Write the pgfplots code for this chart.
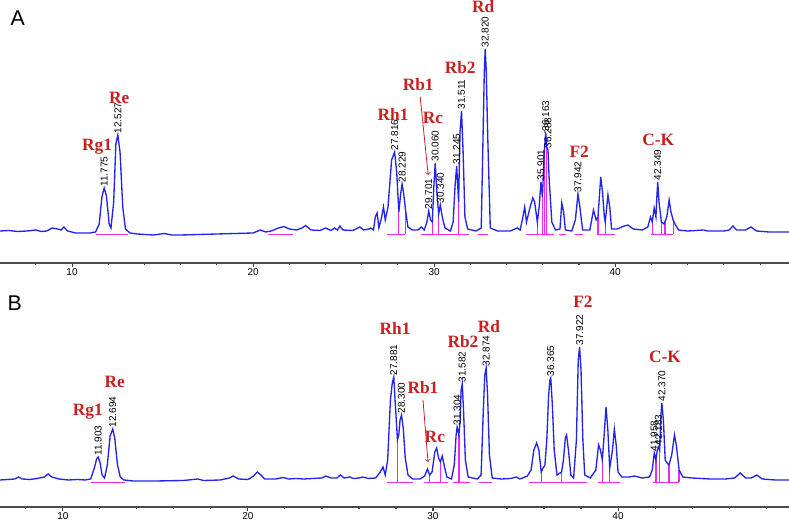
\documentclass[border=0pt]{standalone}
\usepackage{fontspec}
\setmainfont{Liberation Sans}
\newfontfamily\tnr{Liberation Serif}
\usepackage{pgfplots}
\pgfplotsset{compat=1.18}

\definecolor{trace}{RGB}{35,35,235}
\definecolor{integ}{RGB}{240,40,240}
\definecolor{peakred}{RGB}{200,32,30}

\pgfplotsset{
  chrom/.style={
    scale only axis, width=591.75pt,
    axis x line*=bottom, hide y axis, clip=false,
    xtick={10,20,30,40}, minor xtick={8,10,...,48},
    xtick align=outside, major tick length=3pt, minor tick length=1.5pt,
    tick style={black!75, line width=0.8pt},
    axis line style={black!70, line width=0.8pt},
    ticklabel style={font=\fontsize{7.5}{8}\selectfont, inner sep=1pt},
    /pgf/number format/assume math mode=true,
  },
  sig/.style={trace, line width=1pt},
  base/.style={integ, line width=0.9pt, unbounded coords=jump},
}
\tikzset{
  rt/.style={rotate=90, anchor=west, inner sep=1pt, font=\fontsize{7.5}{8}\selectfont},
  nm/.style={text=peakred, font=\tnr\bfseries\fontsize{13}{14}\selectfont},
}

\begin{document}
\begin{tikzpicture}
\useasboundingbox (0,0) rectangle (591.75pt,393pt);

% ---------------- panel A ----------------
\begin{axis}[chrom, at={(0pt,195.75pt)}, height=197.25pt,
  xmin=6.02, xmax=49.6, ymin=-31, ymax=232]

\addplot[base] coordinates {
(11.3,-2.5)(13.1,-2.5)(13.1,nan)
(20.8,-2.5)(22.2,-2.5)(22.2,nan)
(27.4,-2.5)(28.4,-2.5)(28.4,nan)
(28.05,-2.5)(28.05,20)(28.05,nan)
(28.42,-2.5)(28.42,22)(28.42,nan)
(29.3,-2.5)(31.0,-2.5)(31.0,nan)
(29.9,-2.5)(29.9,10)(29.9,nan)
(30.25,-2.5)(30.25,18)(30.25,nan)
(31.0,-2.5)(31.9,-2.5)(31.9,nan)
(31.35,-2.5)(31.35,30)(31.35,nan)
(32.4,-2.5)(33.0,-2.5)(33.0,nan)
(35.1,-2.5)(36.6,-2.5)(36.6,nan)
(35.7,-2.5)(35.7,10)(35.7,nan)
(35.98,-2.5)(35.98,35)(35.98,nan)
(36.1,-2.5)(36.1,80)(36.1,nan)
(36.22,-2.5)(36.22,85)(36.22,nan)
(36.9,-2.5)(37.3,-2.5)(37.3,nan)
(37.8,-2.5)(38.2,-2.5)(38.2,nan)
(39.0,-2.5)(40.0,-2.5)(40.0,nan)
(39.05,-2.5)(39.05,15)(39.05,nan)
(39.45,-2.5)(39.45,10)(39.45,nan)
(42.0,-2.5)(43.2,-2.5)(43.2,nan)
(42.05,-2.5)(42.05,10)(42.05,nan)
(42.55,-2.5)(42.55,10)(42.55,nan)
(42.75,-2.5)(42.75,10)(42.75,nan)
(43.2,-2.5)(43.2,12)
};

\addplot[sig] coordinates {
(6.02,1)(6.5,1.5)(7.0,0.5)(7.5,1)(8.0,2)(8.3,0.5)(8.6,1)(8.9,4)(9.2,3)(9.4,2)(9.55,5)(9.75,1)
(10.2,-1)(11.0,-1)(11.3,0)(11.5,8)(11.65,35)(11.775,44)(11.9,36)(12.05,8)(12.15,4)(12.3,30)
(12.42,88)(12.527,97)(12.65,80)(12.8,25)(12.95,3)(13.2,-1)(13.6,-2)(14.5,-3)(15.1,-1.5)(15.5,-3)
(16,-3)(17,-2.5)(18,-2)(19,-1.5)(20,-1)(20.4,2)(20.7,0)(21.0,1)(21.4,4)(21.7,5.5)(22.0,3)
(22.4,2)(22.7,4)(22.9,6.5)(23.2,2)(23.7,1.5)(24.0,4)(24.3,1.5)(24.5,4)(24.65,2)(24.8,6)(24.95,2)
(25.5,1.5)(25.9,5)(26.1,2)(26.4,3)(26.5,4)(26.65,2)(26.75,15)(26.85,19)(26.95,4)(27.1,15)
(27.2,25)(27.3,12)(27.45,25)(27.65,72)(27.816,80)(27.93,60)(28.05,20)(28.15,38)(28.229,48)
(28.32,38)(28.42,22)(28.55,5)(28.8,2)(29.1,2)(29.3,5)(29.45,2)(29.6,10)(29.701,21)(29.8,12)
(29.9,10)(29.98,45)(30.06,69)(30.15,40)(30.25,18)(30.34,27)(30.45,15)(30.6,4)(30.9,1)(31.05,10)
(31.15,45)(31.245,66)(31.35,30)(31.43,100)(31.511,121)(31.6,80)(31.7,15)(31.85,3)(32.3,1)
(32.6,4)(32.7,95)(32.77,160)(32.82,183)(32.88,160)(32.96,95)(33.1,4)(33.5,1)(34.2,1)(34.6,4)
(34.75,2)(34.9,15)(35.0,25)(35.1,10)(35.3,25)(35.45,34)(35.55,30)(35.7,10)(35.8,25)(35.901,50)
(35.98,35)(36.08,80)(36.163,99)(36.22,85)(36.288,82)(36.36,50)(36.5,10)(36.7,2)(36.95,3)
(37.05,29)(37.15,20)(37.25,2)(37.6,1)(37.8,12)(37.942,38)(38.05,25)(38.2,2)(38.6,2)(38.8,22)
(38.95,12)(39.05,15)(39.2,55)(39.3,40)(39.4,15)(39.45,10)(39.6,37)(39.7,25)(39.8,3)(40.1,3)
(40.5,6)(40.7,7)(41.0,3)(41.5,2)(41.8,5)(41.95,15)(42.05,10)(42.15,24)(42.25,15)(42.3,35)
(42.349,50)(42.42,30)(42.55,10)(42.7,8)(42.85,15)(42.98,32)(43.08,20)(43.2,12)(43.3,8)(43.5,2)
(44,1)(44.9,2)(45.1,1)(46.0,1)(46.3,2)(46.5,6)(46.7,2)(47.2,2)(47.5,5)(47.8,1)(48.5,0)(49.6,0)
};

\node[rt] at (axis cs:11.775,44) {11.775};
\node[rt] at (axis cs:12.527,97) {12.527};
\node[rt] at (axis cs:27.816,80) {27.816};
\node[rt] at (axis cs:28.229,48) {28.229};
\node[rt] at (axis cs:29.701,21) {29.701};
\node[rt] at (axis cs:30.060,69) {30.060};
\node[rt] at (axis cs:30.340,27) {30.340};
\node[rt] at (axis cs:31.245,66) {31.245};
\node[rt] at (axis cs:31.511,121) {31.511};
\node[rt] at (axis cs:32.820,183) {32.820};
\node[rt] at (axis cs:35.901,50) {35.901};
\node[rt] at (axis cs:36.163,99) {36.163};
\node[rt] at (axis cs:36.288,82) {36.288};
\node[rt] at (axis cs:37.942,38) {37.942};
\node[rt] at (axis cs:42.349,50) {42.349};

\node[nm] at (axis cs:11.38,85) {Rg1};
\node[nm] at (axis cs:12.6,134) {Re};
\node[nm] at (axis cs:27.73,118) {Rh1};
\node[nm] at (axis cs:29.12,147) {Rb1};
\node[nm] at (axis cs:29.94,114) {Rc};
\node[nm] at (axis cs:31.44,164) {Rb2};
\node[nm] at (axis cs:32.71,225) {Rd};
\node[nm] at (axis cs:38.01,80) {F2};
\node[nm] at (axis cs:42.38,92) {C-K};
\draw[->, peakred, line width=0.6pt] (axis cs:29.23,135) -- (axis cs:29.67,57);

\node[font=\fontsize{16}{16}\selectfont] at (axis cs:7.0,214) {A};
\end{axis}

% ---------------- panel B ----------------
\begin{axis}[chrom, at={(0pt,12.75pt)}, height=174pt,
  xmin=6.6, xmax=49.24, ymin=-27, ymax=205]

\addplot[base] coordinates {
(11.5,-2.5)(13.35,-2.5)(13.35,nan)
(27.5,-2.5)(28.9,-2.5)(28.9,nan)
(28.08,-2.5)(28.08,40)(28.08,nan)
(29.5,-2.5)(30.8,-2.5)(30.8,nan)
(29.82,-2.5)(29.82,5)(29.82,nan)
(30.4,-2.5)(30.4,18)(30.4,nan)
(31.1,-2.5)(32.0,-2.5)(32.0,nan)
(31.4,-2.5)(31.4,45)(31.4,nan)
(32.5,-2.5)(33.2,-2.5)(33.2,nan)
(35.2,-2.5)(38.3,-2.5)(38.3,nan)
(35.85,-2.5)(35.85,8)(35.85,nan)
(36.95,-2.5)(36.95,8)(36.95,nan)
(38.9,-2.5)(40.1,-2.5)(40.1,nan)
(39.15,-2.5)(39.15,20)(39.15,nan)
(39.55,-2.5)(39.55,12)(39.55,nan)
(41.9,-2.5)(43.3,-2.5)(43.3,nan)
(42.05,-2.5)(42.05,20)(42.05,nan)
(42.25,-2.5)(42.25,30)(42.25,nan)
(42.75,-2.5)(42.75,15)(42.75,nan)
(43.3,-2.5)(43.3,10)
};

\addplot[sig] coordinates {
(6.6,0)(7.0,0.5)(7.4,1)(7.6,3)(7.8,1)(8.2,0.5)(8.6,1.5)(9.0,3)(9.2,6)(9.4,3)(9.8,1)(10.3,0)
(10.8,0.5)(11.2,0)(11.5,1)(11.7,12)(11.82,21)(11.903,23)(12.0,18)(12.12,5)(12.25,2)(12.4,15)
(12.55,44)(12.694,51)(12.8,42)(12.95,15)(13.1,3)(13.3,0)(13.8,-1)(15,-1)(16.5,-0.5)(17.3,1)
(17.6,-0.5)(18.5,0)(19.0,2)(19.2,4)(19.5,1)(20.0,0.5)(20.3,4)(20.5,8)(20.7,5)(20.9,1)(21.5,1)
(21.9,2.5)(22.2,1)(22.6,1.5)(23.0,1)(23.5,1.5)(24.0,2)(24.2,4)(24.5,2)(24.8,2)(25.0,5)(25.2,2)
(25.5,3)(25.7,1.5)(26.0,2)(26.2,3)(26.5,1.5)(26.9,2)(27.15,8)(27.3,13)(27.42,5)(27.55,20)
(27.7,80)(27.8,97)(27.881,103)(27.95,80)(28.08,40)(28.15,45)(28.22,60)(28.3,65)(28.4,50)
(28.5,22)(28.65,5)(28.9,1)(29.3,1)(29.55,4)(29.7,11)(29.82,5)(29.95,8)(30.1,28)(30.2,32)
(30.3,22)(30.4,18)(30.5,24)(30.6,15)(30.75,3)(31.0,1)(31.15,15)(31.25,45)(31.304,53)(31.4,45)
(31.47,60)(31.52,90)(31.582,96)(31.65,70)(31.75,20)(31.9,3)(32.4,1)(32.6,5)(32.72,70)(32.8,105)
(32.874,112)(32.95,85)(33.05,25)(33.2,2)(33.7,1)(34.2,1.5)(34.5,3)(34.7,1)(35.1,4)(35.3,10)
(35.45,30)(35.6,37)(35.72,30)(35.85,8)(35.95,12)(36.05,15)(36.15,40)(36.25,85)(36.32,100)
(36.365,102)(36.45,75)(36.55,30)(36.7,5)(36.95,8)(37.05,20)(37.15,42)(37.22,45)(37.32,30)
(37.45,5)(37.6,2)(37.75,40)(37.85,120)(37.922,133)(38.0,110)(38.1,40)(38.2,5)(38.5,2)(38.8,10)
(38.95,35)(39.05,30)(39.15,20)(39.25,45)(39.35,73)(39.45,50)(39.55,12)(39.7,30)(39.8,51)
(39.9,35)(40.0,8)(40.2,3)(40.6,3)(40.9,4)(41.3,2)(41.7,3)(41.85,10)(41.958,27)(42.05,20)
(42.12,30)(42.183,33)(42.25,30)(42.32,65)(42.37,77)(42.45,60)(42.55,20)(42.65,17)(42.75,15)
(42.9,25)(43.05,45)(43.15,35)(43.3,10)(43.5,3)(44,2)(45,1)(45.8,1)(46.3,2)(46.6,7)(46.9,2)
(47.2,2)(47.5,5)(47.8,1)(48.5,0)(49.24,0)
};

\node[rt] at (axis cs:11.903,23) {11.903};
\node[rt] at (axis cs:12.694,51) {12.694};
\node[rt] at (axis cs:27.881,103) {27.881};
\node[rt] at (axis cs:28.300,65) {28.300};
\node[rt] at (axis cs:31.304,53) {31.304};
\node[rt] at (axis cs:31.582,96) {31.582};
\node[rt] at (axis cs:32.874,112) {32.874};
\node[rt] at (axis cs:36.365,102) {36.365};
\node[rt] at (axis cs:37.922,133) {37.922};
\node[rt] at (axis cs:41.958,27) {41.958};
\node[rt] at (axis cs:42.183,33) {42.183};
\node[rt] at (axis cs:42.370,77) {42.370};

\node[nm] at (axis cs:11.35,68) {Rg1};
\node[nm] at (axis cs:12.8,98) {Re};
\node[nm] at (axis cs:27.95,152) {Rh1};
\node[nm] at (axis cs:29.46,92) {Rb1};
\node[nm] at (axis cs:30.1,43) {Rc};
\node[nm] at (axis cs:31.62,138) {Rb2};
\node[nm] at (axis cs:33.03,153) {Rd};
\node[nm] at (axis cs:38.1,178) {F2};
\node[nm] at (axis cs:42.54,123) {C-K};
\draw[->, peakred, line width=0.6pt] (axis cs:29.46,80) -- (axis cs:29.73,18);

\node[font=\fontsize{16}{16}\selectfont] at (axis cs:7.4,177) {B};
\end{axis}
\end{tikzpicture}
\end{document}
